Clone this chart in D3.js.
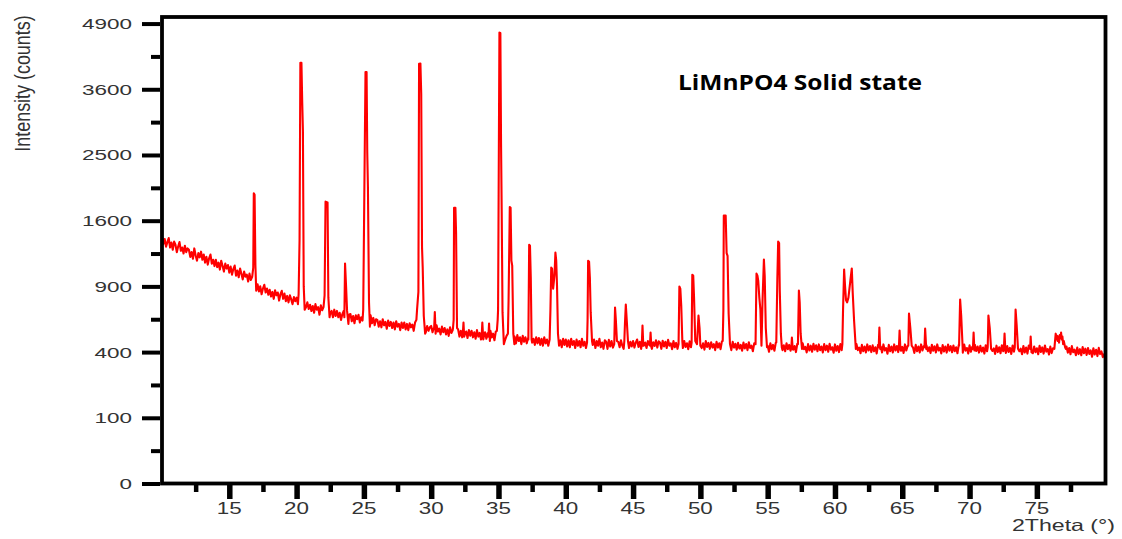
<!DOCTYPE html>
<html><head><meta charset="utf-8">
<script src="https://cdn.jsdelivr.net/npm/d3@7"></script>
<style>html,body{margin:0;padding:0;background:#fff;overflow:hidden}</style>
</head><body><svg id="c" width="1122" height="539"></svg>
<script>
// ---- tick values & texts ----
const xTicks = [15,20,25,30,35,40,45,50,55,60,65,70,75];
const xMinorTicks = [12.5,17.5,22.5,27.5,32.5,37.5,42.5,47.5,52.5,57.5,62.5,67.5,72.5,77.5];
const yTicks = [0,100,400,900,1600,2500,3600,4900];
const yMinorTicks = [25,225,625,1225,2025,3025,4225];
const titleText = "LiMnPO4 Solid state";
const xLabel = "2Theta (°)";
const yLabel = "Intensity (counts)";

const bgStartDeg = 10, bgStepDeg = 0.1;
const background = [
[1410,1330,1385,1300,1350,1395,1290,1345,1265,1355], //10
[1320,1240,1300,1350,1255,1290,1225,1310,1240,1280], //11
[1265,1190,1240,1170,1280,1205,1150,1230,1185,1245], //12
[1160,1215,1130,1190,1110,1175,1215,1120,1160,1095], //13
[1160,1085,1130,1060,1150,1095,1040,1120,1070,1105], //14
[1030,1090,1010,1065,1100,1000,1050,985,1070,1020],  //15
[965,1040,990,1010,945,1020,960,990,930,1000],       //16
[870,920,855,900,830,880,915,845,880,825],           //17
[870,810,850,790,865,820,845,775,830,860],           //18
[790,835,770,815,760,820,785,745,805,770],           //19
[800,745,790,760,800,740,775,720,760,705],           //20
[740,690,730,675,745,700,720,660,735,695],           //21
[720,680,705,660,715,670,690,640,700,650],           //22
[690,640,675,620,665,690,635,670,615,660],           //23
[665,610,650,595,655,625,660,600,640,615],           //24
[650,600,640,590,630,655,595,635,580,625],           //25
[620,570,610,565,625,580,605,555,615,575],           //26
[605,560,600,550,610,570,590,545,600,560],           //27
[600,550,590,545,595,565,585,540,600,620],           //28
[640,700,560,600,545,580,530,575,540,565],           //29
[575,530,560,520,580,535,555,515,570,530],           //30
[560,515,550,505,565,525,545,500,555,520],           //31
[550,500,540,495,555,515,535,490,545,505],           //32
[540,495,530,485,545,500,525,480,540,495],           //33
[530,485,525,480,540,495,520,475,535,500],           //34
[520,475,510,470,525,480,505,460,515,470],           //35
[505,460,500,455,510,470,495,450,505,465],           //36
[495,455,490,445,500,460,485,445,495,455],           //37
[490,445,485,440,495,455,480,440,490,450],           //38
[485,440,480,435,490,450,475,430,485,445],           //39
[480,435,475,430,485,445,470,425,480,440],           //40
[470,430,485,440,465,425,480,450,430,475],           //41
[445,480,425,470,440,485,430,460,420,475],           //42
[465,420,478,435,470,428,455,482,430,465],           //43
[430,475,440,420,470,445,480,425,465,435],           //44
[470,428,460,480,432,465,420,475,440,460],           //45
[425,470,445,478,420,462,438,475,428,468],           //46
[460,420,472,435,465,425,478,440,455,418],           //47
[470,430,458,420,475,440,462,425,470,432],           //48
[455,418,468,430,460,422,472,438,450,415],           //49
[465,425,455,415,470,432,458,420,462,428],           //50
[450,412,465,428,455,418,468,430,445,410],           //51
[460,420,450,412,465,428,452,415,458,422],           //52
[445,408,460,422,450,412,462,425,440,405],           //53
[455,415,445,408,460,422,448,410,452,418],           //54
[440,402,455,418,445,408,458,420,435,400],           //55
[452,412,442,405,455,418,445,408,450,415],           //56
[438,400,452,415,442,405,455,418,432,398],           //57
[450,410,440,402,452,415,442,405,448,412],           //58
[435,398,450,412,440,402,452,415,430,396],           //59
[448,408,438,400,450,412,440,402,445,410],           //60
[432,395,448,410,438,400,450,412,428,393],           //61
[445,405,435,398,448,410,438,400,442,405],           //62
[430,392,445,408,435,398,448,410,425,390],           //63
[445,405,435,398,448,410,438,400,442,408],           //64
[432,395,448,410,438,400,450,412,428,395],           //65
[445,405,435,398,448,410,438,400,442,406],           //66
[430,394,446,408,436,398,448,410,426,392],           //67
[444,404,434,397,447,409,437,399,441,405],           //68
[430,393,445,407,435,397,447,409,425,391],           //69
[442,402,432,395,445,407,435,397,439,403],           //70
[428,391,443,405,433,395,445,407,423,389],           //71
[440,400,430,393,443,405,433,395,437,401],           //72
[426,389,441,403,431,393,443,405,421,387],           //73
[438,398,428,391,441,403,431,393,435,399],           //74
[424,387,439,401,429,391,441,403,419,385],           //75
[434,394,424,387,437,399,427,389,431,395],           //76
[420,383,435,397,425,387,437,399,415,381],           //77
[428,388,418,381,431,393,421,383,425,389],           //78
[410,372,424,386,414,376,426,388,404,370],           //79
[390]                                                //80
];

// ---- diffraction peaks: [2Theta, counts] ----
const peaks = [
 [[16.72,1010],[16.78,1080],[16.82,1950],[16.88,1930],[16.94,1100],[17.0,860]],
 [[20.15,830],[20.22,1370],[20.28,4100],[20.36,4100],[20.42,3350],[20.47,2880],[20.53,900],[20.6,700]],
 [[22.08,820],[22.15,1840],[22.3,1830],[22.36,800],[22.45,640]],
 [[23.55,640],[23.6,1120],[23.68,890],[23.75,690],[23.85,590]],
 [[24.95,700],[25.03,1890],[25.12,3920],[25.2,3920],[25.25,2540],[25.3,2030],[25.38,760],[25.45,570]],
 [[28.95,700],[29.05,850],[29.1,4080],[29.2,4085],[29.26,3520],[29.32,1290],[29.37,1080],[29.45,650],[29.55,520]],
 [[30.22,560],[30.27,680],[30.33,520]],
 [[31.62,560],[31.67,620],[31.7,1760],[31.8,1760],[31.85,1450],[31.92,560]],
 [[32.35,520],[32.4,600],[32.45,500]],
 [[33.75,500],[33.8,600],[33.87,480]],
 [[34.25,500],[34.3,593],[34.36,470]],
 [[34.88,540],[34.94,620],[34.97,700],[35.0,1530],[35.07,4710],[35.14,4700],[35.19,2680],[35.24,1700],[35.3,680],[35.4,450]],
 [[35.7,520],[35.75,780],[35.84,1770],[35.9,1760],[35.96,1150],[36.02,1100],[36.1,520],[36.18,450]],
 [[37.22,480],[37.28,1320],[37.34,1310],[37.4,980],[37.46,480]],
 [[38.8,480],[38.86,700],[38.92,1080],[38.98,1070],[39.06,880],[39.16,1000],[39.23,1236],[39.29,1150],[39.35,900],[39.42,520],[39.5,440]],
 [[41.58,460],[41.62,620],[41.66,1150],[41.73,1140],[41.79,980],[41.85,680],[41.95,470]],
 [[43.6,450],[43.66,717],[43.72,620],[43.8,470]],
 [[44.35,470],[44.4,600],[44.46,742],[44.54,600],[44.62,470]],
 [[45.65,450],[45.7,578],[45.76,440]],
 [[46.25,440],[46.3,528],[46.36,430]],
 [[48.38,450],[48.44,899],[48.51,880],[48.58,730],[48.66,470]],
 [[49.35,460],[49.4,1010],[49.47,1000],[49.53,800],[49.62,470],[49.75,450],[49.86,654],[49.94,560],[50.0,440]],
 [[51.66,470],[51.71,700],[51.74,1664],[51.88,1664],[51.95,1230],[52.02,1200],[52.1,670],[52.2,450]],
 [[54.1,450],[54.17,1021],[54.24,1000],[54.3,950],[54.38,800],[54.46,700],[54.54,440],[54.62,780],[54.72,1162],[54.78,1000],[54.86,560],[54.95,430]],
 [[55.64,460],[55.72,980],[55.78,1356],[55.85,1340],[55.9,860],[55.98,520],[56.05,430]],
 [[56.76,430],[56.8,494],[56.86,420]],
 [[57.25,450],[57.32,863],[57.38,760],[57.45,520],[57.55,420]],
 [[60.55,450],[60.6,700],[60.68,1061],[60.75,900],[60.82,780],[60.9,760],[61.0,800],[61.15,960],[61.25,1071],[61.32,840],[61.42,615],[61.55,420]],
 [[63.25,430],[63.3,564],[63.36,420]],
 [[64.75,430],[64.8,542],[64.86,420]],
 [[65.45,440],[65.5,669],[65.6,560],[65.7,440]],
 [[66.65,430],[66.7,556],[66.78,420]],
 [[69.22,440],[69.3,784],[69.38,650],[69.48,440]],
 [[70.25,420],[70.3,528],[70.36,410]],
 [[71.35,430],[71.4,654],[71.5,560],[71.6,420]],
 [[72.55,420],[72.6,521],[72.66,410]],
 [[73.36,430],[73.42,701],[73.5,580],[73.6,420]],
 [[74.5,420],[74.54,500],[74.6,400]],
 [[76.3,420],[76.35,470],[76.4,520],[76.45,480],[76.5,505],[76.55,470],[76.6,500],[76.65,460],[76.7,510],[76.75,490],[76.8,528],[76.85,480],[76.9,500],[76.95,450],[77.0,470],[77.1,430],[77.15,420]]
];

// ---- assemble the scan (background samples outside peak windows + peak samples) ----
const bgPoints = background.flatMap((row, i) => row.map((c, j) => [+(bgStartDeg + i + j*bgStepDeg).toFixed(2), c]));
const inPeak = t => peaks.some(p => t >= p[0][0] && t <= p[p.length-1][0]);
const scan = bgPoints.filter(d => !inPeak(d[0])).concat(peaks.flat()).sort((a,b)=>a[0]-b[0]);

// ---- layout ----
const svg = d3.select("#c");
const x = d3.scaleLinear().domain([10, 80.1]).range([162, 1105.5]);
const y = d3.scaleSqrt().domain([0, 5041]).range([483.5, 17]);
const font = "'Liberation Sans', Arial, Helvetica, sans-serif";

svg.append("defs").append("clipPath").attr("id","clip")
  .append("rect").attr("x",162).attr("y",17).attr("width",1105.5-162).attr("height",483.5-17);

svg.append("path").datum(scan)
  .attr("clip-path","url(#clip)")
  .attr("fill","none").attr("stroke","#ff0000").attr("stroke-width",2.1)
  .attr("stroke-linejoin","round")
  .attr("d", d3.line().x(d=>x(d[0])).y(d=>y(d[1])));

// frame
svg.append("rect").attr("x",162).attr("y",17).attr("width",1105.5-162).attr("height",483.5-17)
  .attr("fill","none").attr("stroke","#000").attr("stroke-width",3.8);

function styleAxis(g, w){ g.select(".domain").remove(); g.selectAll("line").attr("stroke","#000").attr("stroke-width",w); }
svg.append("g").attr("transform","translate(0,485)")
  .call(d3.axisBottom(x).tickValues(xTicks).tickSize(14).tickFormat(""))
  .call(g=>styleAxis(g,5.5));
svg.append("g").attr("transform","translate(0,485)")
  .call(d3.axisBottom(x).tickValues(xMinorTicks).tickSize(7).tickFormat(""))
  .call(g=>styleAxis(g,4.5));
svg.append("g").attr("transform","translate(160,0)")
  .call(d3.axisLeft(y).tickValues(yTicks).tickSize(18).tickFormat(""))
  .call(g=>styleAxis(g,4));
svg.append("g").attr("transform","translate(160,0)")
  .call(d3.axisLeft(y).tickValues(yMinorTicks).tickSize(9).tickFormat(""))
  .call(g=>styleAxis(g,4));

// tick labels
svg.append("g").selectAll("text").data(yTicks).join("text")
  .attr("transform", d=>`translate(132,${y(d)+5.5}) scale(1.46,1)`)
  .attr("text-anchor","end").attr("font-family",font).attr("font-size",15.4)
  .attr("fill","#333").text(d=>d);
svg.append("g").selectAll("text").data(xTicks).join("text")
  .attr("transform", d=>`translate(${x(d)},514) scale(1.32,1)`)
  .attr("text-anchor","middle").attr("font-family",font).attr("font-size",17)
  .attr("fill","#333").text(d=>d);

// axis titles
svg.append("text").attr("transform","translate(29.5,83.5) rotate(-90) scale(1.12,1.33)")
  .attr("text-anchor","middle").attr("font-family",font).attr("font-size",16)
  .attr("fill","#333").text(yLabel);
svg.append("text").attr("transform","translate(1115,531) scale(1.42,1)")
  .attr("text-anchor","end").attr("font-family",font).attr("font-size",16.3)
  .attr("fill","#333").text(xLabel);

// title
svg.append("text").attr("x",678).attr("y",90)
  .attr("font-family","'Open Sans', 'Noto Sans', sans-serif").attr("font-weight","bold")
  .attr("font-size",21).attr("textLength",244).attr("lengthAdjust","spacingAndGlyphs")
  .attr("fill","#000").text(titleText);
</script></body></html>
